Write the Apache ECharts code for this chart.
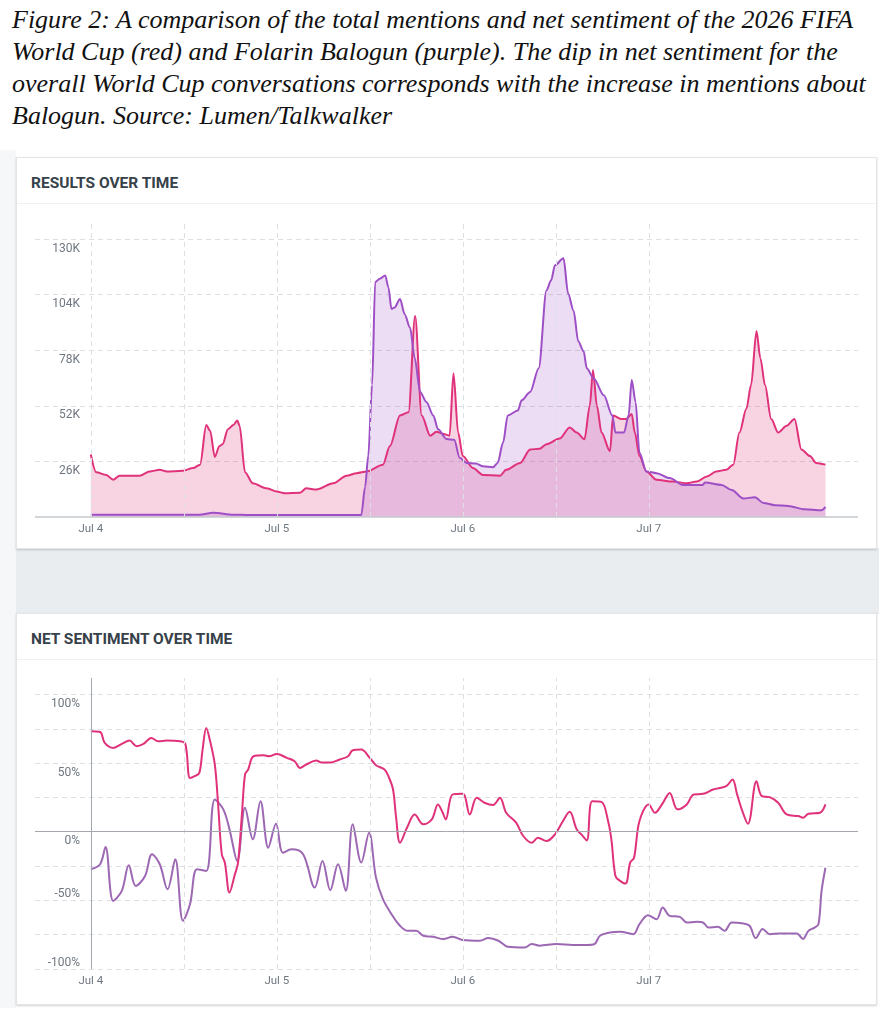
<!DOCTYPE html>
<html>
<head>
<meta charset="utf-8">
<script src="https://cdn.jsdelivr.net/npm/echarts@6.0.0/dist/echarts.min.js"></script>
<style>
  body{margin:0;width:889px;height:1024px;background:#fff;position:relative;overflow:hidden;}
  .caption{position:absolute;left:12px;top:4px;font:italic 26px "Liberation Serif","Times New Roman",serif;line-height:32px;color:#111;white-space:nowrap;}
  .panel{position:absolute;left:16px;top:548px;width:863px;height:66px;background:#e9edf0;}
  .edge{position:absolute;left:0;top:150px;width:16px;height:858px;background:#f6f7f8;}
  .card{position:absolute;left:16px;width:859px;height:390px;background:#fff;border:1px solid #e3e6e9;box-shadow:0 1px 2px rgba(0,0,0,0.18);}
  .card .head{height:45px;padding-left:14px;border-bottom:1px solid #eef0f2;font:700 15.5px Roboto,"Noto Sans",sans-serif;line-height:50px;color:#36414a;}
  .card .chart{width:859px;height:344px;}
</style>
</head>
<body>
<div class="caption">Figure 2: A comparison of the total mentions and net sentiment of the 2026 FIFA<br>World Cup (red) and Folarin Balogun (purple). The dip in net sentiment for the<br>overall World Cup conversations corresponds with the increase in mentions about<br>Balogun. Source: Lumen/Talkwalker</div>
<div class="edge"></div>
<div class="panel"></div>
<div class="card" style="top:157px"><div class="head">RESULTS OVER TIME</div><div class="chart" id="results"></div></div>
<div class="card" style="top:613px"><div class="head">NET SENTIMENT OVER TIME</div><div class="chart" id="sentiment"></div></div>
<script>
// hours counted from Jul 4 00:00
var dayTicks = [0, 24, 48, 72];
var dayLabels = ['Jul 4', 'Jul 5', 'Jul 6', 'Jul 7'];
var halfDayLines = [0, 12, 24, 36, 48, 60, 72];

// mentions, thousands
var cupMentionHours = [0,0.7,2,2.9,3.7,6.3,7.6,8.9,9.8,11.9,13.2,14.1,14.9,15.4,16,16.6,17,17.7,18.4,18.9,19.2,19.9,20.9,22.7,24,25,27,27.8,29.1,31.3,33,34.3,35.6,37.7,38.6,39.9,41,41.85,42.7,43.8,44.6,45.4,46.3,46.8,47.4,48,49.3,50.6,52.8,53.6,55.4,56.7,57.9,58.8,60.5,61.8,62.7,63.7,64.4,64.8,65.3,65.9,67,67.4,68.5,69.1,69.8,70.2,70.8,71.7,73,75.1,76.9,78.2,79.5,80.7,82,82.9,83.7,84.6,85.2,85.9,86.4,87,87.8,88.7,89.8,90.8,91.7,92.8,93.6,94.8];
var cupMentions = [29.2,20.9,19.7,17.4,19.3,19.3,21.3,22.1,21.3,21.6,22.9,24.5,43,40.3,28.1,33.2,34,41.1,43,45.1,42.7,20.9,15.8,13.4,11.9,11.1,11.4,13.4,12.9,15.8,19.3,20.5,21.3,24.5,33.2,47.5,49,94,47.5,38,39.9,39,38,67.2,39.5,28.5,22.9,19.7,19.3,22.1,25.3,31.6,31.9,34,36.7,41.9,39.5,36.4,52.2,68.8,52.2,39.5,30.8,47.5,45.8,45.8,48.2,39.5,28.5,21.3,17.4,16.6,15.8,16.6,19,21.3,22.1,24.5,39.5,50.6,61.7,87,74.3,61.7,45.8,39.5,42.7,45.8,31.6,28.5,25.3,24.5];
var baloMentionHours = [0,5.5,14,15.8,18.4,20.5,34.9,35.4,35.8,36.3,36.7,37.3,38,38.4,38.8,39.2,39.9,40.5,41.2,41.8,42.5,43.3,44.2,44.8,45.9,46.9,47.6,48.5,49.7,50.6,51.9,52.5,53.2,53.8,55.1,55.6,56.7,57.8,58.8,59.4,59.9,61,61.6,62.3,62.9,63.6,64,64.9,66.2,67.3,67.7,68.8,69.4,69.8,70.3,70.8,71.7,73,74.7,76.4,78.9,79.3,81.4,82.7,84.2,85.7,86.8,88.3,90,92.1,94.3,94.8];
var baloMentions = [1.1,1.0,1.0,2.0,1.1,0.9,0.9,14.2,28.5,61.7,109.9,111.5,113,107.5,97.3,98,102,94.9,88.5,74.3,58.5,53.8,47.5,41.1,36.5,36.1,27.7,25.3,25,23.7,23.3,25.3,34.8,47.5,49.8,54.6,58.5,69.6,106,110.7,117.8,121,104.4,96.5,82.2,77.5,69.6,64.8,56.9,47.5,39.5,39.5,47.5,64.1,53.8,30,21.3,20.5,18.2,15,15,16.1,15,12.6,8.7,9.2,6.6,5.5,5.2,3.6,3.1,4.7];

// net sentiment, percent
var cupSentHours = [0,1.2,1.8,2.9,4,5,5.9,6.8,7.8,8.7,9.8,11.5,12.2,12.8,13.4,14,14.4,14.9,15.4,16,16.4,16.9,17.3,17.9,18.6,19,19.5,19.9,20.3,21,22.3,23,24,25.3,26.3,27,27.8,29.1,29.7,31,32.1,33.2,33.8,34.9,36,36.8,37.9,38.4,39,39.4,39.9,40.8,41.8,42.9,44,44.8,45.4,45.8,46.7,48,48.9,49.8,50.8,51.9,52.8,53.6,54.9,55.8,56.9,57.7,58.8,59.9,60.8,61.8,62.7,63.3,64,64.7,65.9,66.8,67.2,67.7,68.3,69,69.6,70.1,70.8,72,72.8,73.7,74.7,75.7,76.9,77.8,79,80.3,82,82.8,83.4,84,84.8,85.9,86.6,87.6,88.7,89.8,91.3,91.9,92.6,94.1,94.8];
var cupSentiment = [73.2,72.7,64.7,61,64,66.4,62.3,64,68.3,65.9,66.4,65.9,64,39.2,40.5,42.9,58.6,75.6,65.9,49,22.3,-16.4,-22.5,-44.3,-31,-22.5,12.6,41.7,45.3,55,55.7,55,56.7,53.8,51.4,46.5,49,51.9,50.5,50.5,52.6,55,59.4,59.9,53.8,48.5,45.3,40.5,30.8,10.2,-8,2.9,12.6,5.4,9,19.9,14,9,27.2,27.6,12.6,24.7,21.1,19.4,24.7,13.8,6.5,-3.1,-8,-4.4,-6.8,-1.9,6.5,14.5,1.7,-1.9,-6.3,22.3,21.8,6.5,-6.8,-32.2,-35.8,-37.8,-22.5,-18.9,7.8,19.9,13.8,19.9,28.3,16.3,19.9,27.2,27.6,30.8,33.2,38.1,27.2,16.3,5.8,36.8,25.9,25.2,21.1,12.6,11.4,10.2,13.1,13.8,19.9];
var baloSentHours = [0,1.2,1.9,2.9,4,4.9,5.8,7,7.9,8.9,9.9,10.9,11.9,12.8,13.7,14.9,16,17.1,17.9,18.9,19.9,20.9,21.9,22.9,23.9,24.8,25.9,27.4,28.9,29.9,30.9,31.9,32.9,33.8,34.9,35.9,36.8,37.7,38.8,39.9,40.9,42,42.9,44.2,45.5,46.7,48,50.2,51.3,52.6,53.8,56,56.9,57.9,60.1,62.2,64,65,65.7,67,68.3,70,70.8,71.9,73,73.8,74.7,76,76.9,78.2,79,79.7,80.9,81.8,82.7,84,85,85.8,86.7,87.6,88.9,91.1,91.9,92.6,93.4,93.9,94.3,94.8];
var baloSentiment = [-27.3,-23.7,-11.1,-50.4,-43.1,-24.4,-39.5,-32.2,-16.4,-23.7,-41.9,-20.1,-64.9,-52.8,-27.3,-28.6,23.5,16.3,1.7,-21.3,17.4,-5.5,22.3,-11.6,5.8,-15.3,-12.8,-16.4,-40.7,-21.3,-42.6,-23.7,-43.1,5.4,-22.5,-0.7,-33.4,-49.1,-60,-68.5,-72.2,-72.2,-75.8,-76.5,-78.2,-76.5,-78.9,-79.4,-77.5,-79.4,-83.8,-84.3,-81.8,-83,-81.8,-82.5,-82.5,-81.8,-75.8,-73.4,-72.9,-74.6,-67.3,-60.8,-63.7,-55.2,-61.3,-62,-66.1,-65.6,-66.1,-69.8,-69.3,-72.2,-66.1,-66.6,-68.5,-77.5,-70.9,-74.6,-74.1,-74.1,-78.2,-72.2,-69.8,-67.3,-43.1,-26.2];

var RED = '#e0327a', PURPLE = '#9e4fc6', PURPLE_DIM = '#9d68b3';
var GRID_LINE = '#dcdfe3', LABEL = '#6f7780';

function pairs(xs, ys){
  return xs.map(function (x, i){ return [x, ys[i]]; });
}

function xAxisFor(){
  return {
    type: 'value', min: -7.2, max: 99,
    axisLine: {show: false, onZero: false},
    axisTick: {show: false},
    splitLine: {show: false},
    axisLabel: {
      customValues: dayTicks, margin: 6, color: LABEL, fontSize: 11.5, fontFamily: 'Roboto',
      formatter: function (v){ return dayLabels[dayTicks.indexOf(v)] || ''; }
    }
  };
}

function dayLines(firstSolid){
  return {
    silent: true, symbol: ['none', 'none'], animation: false,
    label: {show: false},
    lineStyle: {color: GRID_LINE, type: [5, 4], width: 1},
    data: halfDayLines.filter(function (h){ return !(firstSolid && h === 0); })
      .map(function (h){ return {xAxis: h}; })
  };
}

// y 轴标签放在 Jul 4 竖线左侧
function yLabel(fmt){
  return {
    inside: true, margin: 45, align: 'right', color: LABEL, fontSize: 12, fontFamily: 'Roboto',
    formatter: fmt,
    rich: {
      p: {padding: [19, 0, 0, 0], color: LABEL, fontSize: 12, fontFamily: 'Roboto'},
      n: {padding: [0, 0, 13, 0], color: LABEL, fontSize: 12, fontFamily: 'Roboto'}
    }
  };
}

/* 提及量 */
var results = echarts.init(document.getElementById('results'));
results.setOption({
  animation: false,
  grid: {left: 18, right: 18, top: 18, bottom: 31, containLabel: false, outerBoundsMode: 'none'},
  xAxis: xAxisFor(),
  yAxis: {
    type: 'value', min: 0, max: 138, interval: 26,
    axisLine: {show: false, onZero: false},
    axisTick: {show: false},
    splitLine: {show: true, showMaxLine: false, showMinLine: false, lineStyle: {color: GRID_LINE, type: [5, 4]}},
    axisLabel: yLabel(function (v){ return (v > 0 && v % 26 === 0) ? '{p|' + v + 'K}' : ''; })
  },
  series: [
    {
      name: 'World Cup', type: 'line', data: pairs(cupMentionHours, cupMentions),
      smooth: 0.3, smoothMonotone: 'x', showSymbol: false,
      lineStyle: {color: RED, width: 2}, itemStyle: {color: RED},
      areaStyle: {color: RED, opacity: 0.21},
      markLine: dayLines(false)
    },
    {
      name: 'Balogun', type: 'line', data: pairs(baloMentionHours, baloMentions),
      smooth: 0.3, smoothMonotone: 'x', showSymbol: false,
      lineStyle: {color: PURPLE, width: 2}, itemStyle: {color: PURPLE},
      areaStyle: {color: PURPLE, opacity: 0.2},
      markLine: {
        silent: true, symbol: ['none', 'none'], label: {show: false},
        lineStyle: {color: '#c4c8cd', type: 'solid', width: 1.5},
        data: [{yAxis: 0}]
      }
    }
  ]
});

/* 净情感 */
var sentiment = echarts.init(document.getElementById('sentiment'));
sentiment.setOption({
  animation: false,
  grid: {left: 18, right: 18, top: 18, bottom: 35, containLabel: false, outerBoundsMode: 'none'},
  xAxis: xAxisFor(),
  yAxis: {
    type: 'value', min: -100, max: 112, interval: 25,
    axisLine: {show: false, onZero: false},
    axisTick: {show: false},
    splitLine: {show: true, showMaxLine: false, lineStyle: {color: GRID_LINE, type: [5, 4]}},
    axisLabel: yLabel(function (v){
      if (v % 50 !== 0) return '';
      return v < 0 ? '{n|' + v + '%}' : '{p|' + v + '%}';
    })
  },
  series: [
    {
      name: 'Balogun', type: 'line', data: pairs(baloSentHours, baloSentiment),
      smooth: 0.35, showSymbol: false,
      lineStyle: {color: PURPLE_DIM, width: 2}, itemStyle: {color: PURPLE_DIM},
      markLine: dayLines(true)
    },
    {
      name: 'World Cup', type: 'line', data: pairs(cupSentHours, cupSentiment),
      smooth: 0.35, showSymbol: false,
      lineStyle: {color: RED, width: 2}, itemStyle: {color: RED},
      markLine: {
        silent: true, symbol: ['none', 'none'], label: {show: false},
        lineStyle: {color: '#a3a8ae', type: 'solid', width: 1},
        data: [{yAxis: 0}, {xAxis: 0}]
      }
    }
  ]
});
</script>
</body>
</html>
